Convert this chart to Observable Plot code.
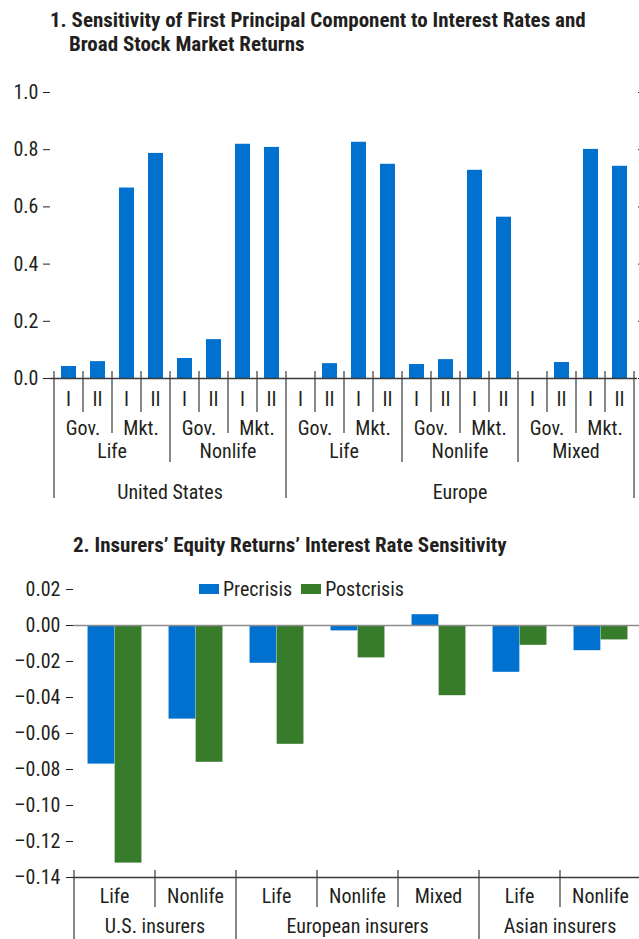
<!DOCTYPE html>
<html>
<head>
<meta charset="utf-8">
<script src="https://cdn.jsdelivr.net/npm/d3@7"></script>
<script src="https://cdn.jsdelivr.net/npm/@observablehq/plot@0.6"></script>
<style>
  body { margin: 0; background: #fff; }
  #root { position: relative; width: 639px; height: 939px; overflow: hidden; color: #231f20;
    font-family: "Liberation Sans Narrow", "Arial Narrow", "Roboto Condensed", "DejaVu Sans Condensed", Roboto, sans-serif; }
  .title { position: absolute; font-weight: bold; font-size: 21px; line-height: 21px; white-space: nowrap; }
  .panel { position: absolute; left: 0; }
  #legend { position: absolute; display: flex; align-items: center; font-size: 20px; line-height: 20px; }
  #legend .sw { display: inline-block; width: 20px; height: 10px; margin-right: 4px; }
  #legend .item { display: flex; align-items: center; margin-right: 9px; }
</style>
</head>
<body>
<div id="root">
  <div class="title" style="left:50px; top:10px;">1. Sensitivity of First Principal Component to Interest Rates and</div>
  <div class="title" style="left:69px; top:34px;">Broad Stock Market Returns</div>
  <div class="panel" id="panel1" style="top:0px;"></div>
  <div class="title" style="left:73px; top:535px;">2. Insurers’ Equity Returns’ Interest Rate Sensitivity</div>
  <div class="panel" id="panel2" style="top:560px;"></div>
  <div id="legend" style="left:199px; top:579px;"></div>
</div>
<script>
// ---------------- Panel 1 data ----------------
const regions1 = ["United States", "Europe"];
const usTypes = ["Life", "Nonlife"];
const europeTypes = ["Life", "Nonlife", "Mixed"];
const factors1 = ["Gov.", "Mkt."];
const periods1 = ["I", "II"];
// order: type > factor (Gov., Mkt.) > period (I, II)
const usValues = [0.042, 0.059, 0.666, 0.787, 0.070, 0.136, 0.819, 0.808];
const europeValues = [null, 0.052, 0.826, 0.749, 0.049, 0.066, 0.728, 0.564, null, 0.056, 0.801, 0.742];
const yTicks1 = [0, 0.2, 0.4, 0.6, 0.8, 1.0];

// ---------------- Panel 2 data ----------------
const groups2 = ["U.S. insurers", "European insurers", "Asian insurers"];
const usTypes2 = ["Life", "Nonlife"];
const europeTypes2 = ["Life", "Nonlife", "Mixed"];
const asiaTypes2 = ["Life", "Nonlife"];
const series2 = ["Precrisis", "Postcrisis"];
const precrisis = [-0.077, -0.052, -0.021, -0.003, 0.006, -0.026, -0.014];
const postcrisis = [-0.132, -0.076, -0.066, -0.018, -0.039, -0.011, -0.008];
const yTicks2 = [0.02, 0.00, -0.02, -0.04, -0.06, -0.08, -0.10, -0.12, -0.14];

const colors = ["#0071ce", "#377c2b"];
const textColor = "#231f20";
const lineColor = "#3a3a3a";
const fontFamily = getComputedStyle(document.getElementById("root")).fontFamily;

// ---------------- build tables ----------------
const typesByRegion = {"United States": usTypes, "Europe": europeTypes};
const valuesByRegion = {"United States": usValues, "Europe": europeValues};
const rows1 = [];
for (const r of regions1) {
  let k = 0;
  for (const t of typesByRegion[r]) for (const f of factors1) for (const p of periods1) {
    rows1.push({levels: [r, t, f, p], key: [r, t, f, p].join("|"), value: valuesByRegion[r][k++]});
  }
}
const typesByGroup = {"U.S. insurers": usTypes2, "European insurers": europeTypes2, "Asian insurers": asiaTypes2};
const cats2 = [];
for (const g of groups2) for (const t of typesByGroup[g]) cats2.push({levels: [g, t], key: g + "|" + t});
const rows2 = [];
cats2.forEach((c, i) => {
  rows2.push({key: c.key, series: series2[0], value: precrisis[i]});
  rows2.push({key: c.key, series: series2[1], value: postcrisis[i]});
});

// ---------------- helpers ----------------
function bandScale(plot) {
  const s = plot.scale("x");
  if (typeof s.apply === "function") {
    return {center: k => s.apply(k) + s.bandwidth / 2, step: s.step};
  }
  const sc = d3.scaleBand().domain(s.domain).range(s.range)
    .paddingInner(s.paddingInner ?? 0).paddingOuter(s.paddingOuter ?? 0).align(s.align ?? 0.5);
  return {center: k => sc(k) + sc.bandwidth() / 2, step: sc.step()};
}

// draws hierarchical category axis under the plot
function hierAxis(svg, items, xs, y0, sepEnds, labelYs, fontSize) {
  const g = d3.select(svg).append("g").attr("fill", textColor).attr("font-size", fontSize)
    .attr("text-anchor", "middle").attr("font-family", fontFamily);
  const depth = items[0].levels.length;
  // separators
  for (let i = 0; i <= items.length; i++) {
    let x, level;
    if (i === 0) { x = xs.center(items[0].key) - xs.step / 2; level = 0; }
    else if (i === items.length) { x = xs.center(items[i - 1].key) + xs.step / 2; level = 0; }
    else {
      x = xs.center(items[i].key) - xs.step / 2;
      level = items[i].levels.findIndex((v, j) => v !== items[i - 1].levels[j]);
    }
    g.append("line").attr("x1", x).attr("x2", x).attr("y1", y0 - 7).attr("y2", y0 + sepEnds[level])
      .attr("stroke", lineColor).attr("stroke-width", 1.2);
  }
  // labels per level
  for (let lev = 0; lev < depth; lev++) {
    const groups = [];
    items.forEach(it => {
      const id = it.levels.slice(0, lev + 1).join("|");
      const last = groups[groups.length - 1];
      if (last && last.id === id) last.items.push(it);
      else groups.push({id, label: it.levels[lev], items: [it]});
    });
    for (const gr of groups) {
      const x = (xs.center(gr.items[0].key) + xs.center(gr.items[gr.items.length - 1].key)) / 2;
      g.append("text").attr("x", x).attr("y", y0 + labelYs[lev]).attr("dy", "0.36em").text(gr.label);
    }
  }
}

// ---------------- Panel 1 ----------------
const W = 639;
const H1 = 505, base1 = 378;
const plot1 = Plot.plot({
  width: W, height: H1,
  marginTop: 92, marginBottom: H1 - base1, marginLeft: 50, marginRight: 2,
  style: {fontFamily, fontSize: "20px", color: textColor, background: "transparent", overflow: "visible"},
  x: {domain: rows1.map(d => d.key), paddingInner: 0.5, paddingOuter: 0.25, axis: null},
  y: {domain: [0, 1], axis: null, label: null},
  marks: [
    Plot.barY(rows1.filter(d => d.value != null), {x: "key", y: "value", fill: colors[0]}),
    Plot.axisY(yTicks1, {anchor: "left", tickSize: 7, tickPadding: 5, tickFormat: d3.format(".1f"), label: null}),
    Plot.axisY(yTicks1, {anchor: "right", tickSize: 3, tickFormat: () => "", label: null}),
    Plot.ruleY([0], {stroke: lineColor, strokeWidth: 1.5})
  ]
});
document.getElementById("panel1").appendChild(plot1);
hierAxis(plot1, rows1, bandScale(plot1), base1, [120, 84, 55, 34], [114, 73, 50, 21], 20);

// ---------------- Panel 2 ----------------
const top2 = 560, H2 = 939 - top2, base2 = 877 - top2;
const ml2 = 73, mr2 = -3;
const step2 = (W - ml2 - mr2) / cats2.length;
const fmt2 = d => (d < 0 ? "–" : "") + Math.abs(d).toFixed(2);
const plot2 = Plot.plot({
  width: W, height: H2,
  marginTop: 589 - top2, marginBottom: H2 - base2, marginLeft: ml2, marginRight: mr2,
  style: {fontFamily, fontSize: "20px", color: textColor, background: "transparent", overflow: "visible"},
  x: {domain: cats2.map(d => d.key), padding: 0, axis: null},
  y: {domain: [-0.14, 0.02], axis: null, label: null},
  color: {domain: series2, range: colors},
  marks: [
    Plot.barY(rows2.filter(d => d.series === series2[0]), {x: "key", y: "value", fill: "series", insetLeft: step2 / 6, insetRight: step2 / 2}),
    Plot.barY(rows2.filter(d => d.series === series2[1]), {x: "key", y: "value", fill: "series", insetLeft: step2 / 2, insetRight: step2 / 6}),
    Plot.ruleY([0], {stroke: "#8c8c8c", strokeWidth: 1.5}),
    Plot.ruleY([-0.14], {stroke: lineColor, strokeWidth: 1.5}),
    Plot.axisY(yTicks2, {anchor: "left", tickSize: 7, tickPadding: 6, tickFormat: fmt2, label: null})
  ]
});
document.getElementById("panel2").appendChild(plot2);
hierAxis(plot2, cats2, bandScale(plot2), base2, [80, 30], [49, 19], 20);

// ---------------- Legend ----------------
const legend = d3.select("#legend");
series2.forEach((s, i) => {
  const it = legend.append("div").attr("class", "item");
  it.append("span").attr("class", "sw").style("background", colors[i]);
  it.append("span").text(s);
});
</script>
</body>
</html>
